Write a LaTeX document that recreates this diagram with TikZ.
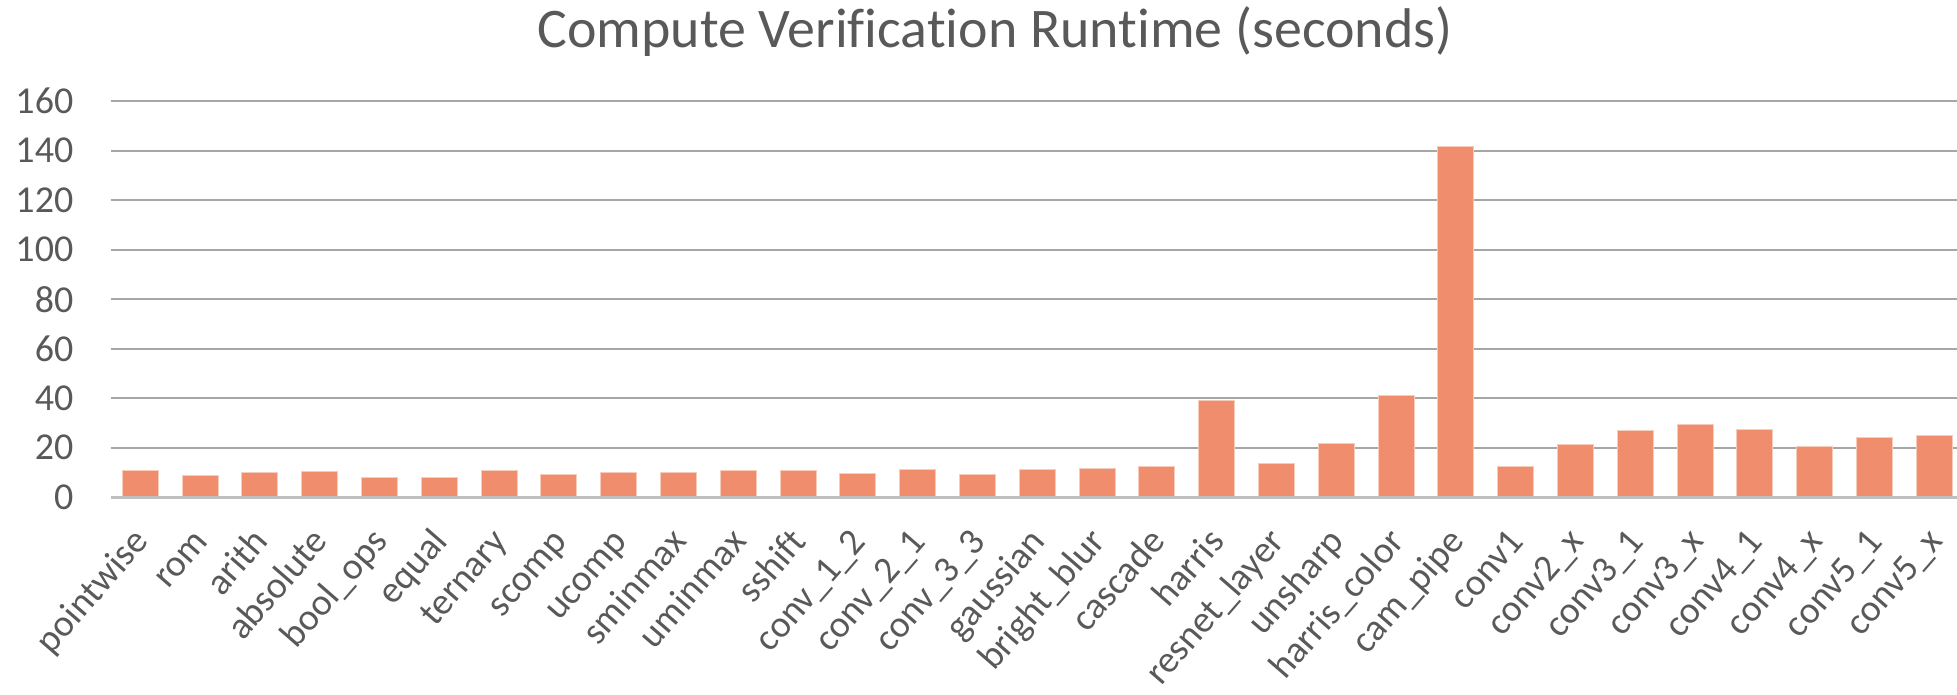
\documentclass[tikz,border=0pt]{standalone}
\usepackage{fontspec}
\setmainfont{Carlito}[Ligatures={NoCommon}]
\newfontfamily\ttlfamily{Carlito}[Ligatures={NoCommon}]
\newcommand\labfont{\fontsize{10.7pt}{12.8pt}\selectfont}
\newcommand\ylabfont{\fontsize{10.81pt}{13pt}\selectfont}
\newcommand\ttlfont{\ttlfamily\fontsize{15.9pt}{19pt}\selectfont}
\definecolor{txt}{HTML}{595959}
\definecolor{barc}{HTML}{EF8D6C}
\definecolor{gridc}{HTML}{A6A6A6}
\definecolor{axisc}{HTML}{BFBFBF}
\tikzset{
  gridline/.style={draw=gridc, line width=0.55pt},
  axisline/.style={draw=axisc, line width=0.85pt},
  barbox/.style={fill=barc, draw=barc!45!white, line width=0.25pt},
  ylab/.style={anchor=east, inner sep=0pt, text=txt, font=\ylabfont},
  xlab/.style={anchor=east, rotate=49, inner sep=0pt, text=txt, font=\labfont, text height=8pt, text depth=2.7pt},
  ttl/.style={anchor=base, inner sep=0pt, text=txt, font=\ttlfont}
}
\begin{document}
\begin{tikzpicture}[x=0.01cm, y=-0.01cm]
\useasboundingbox (0,0) rectangle (1957,695);
\node[ttl] (title) at (995,48) {Compute Verification Runtime (seconds)};
\foreach \v in {20,40,...,160} {
  \draw[gridline] (110.5,{497.3-2.475*\v}) -- (1957,{497.3-2.475*\v});
}
\foreach \v in {0,20,...,160} {
  \node[ylab] (y\v) at (74,{497.3-2.475*\v}) {\v};
}
\foreach \n/\val [count=\i from 0] in {pointwise/10.9, rom/9.0, arith/10.1, absolute/10.5, bool\_ops/7.9, equal/8.2, ternary/10.7, scomp/9.3, ucomp/10.2, sminmax/10.0, uminmax/10.9, sshift/10.7, conv\_1\_2/9.7, conv\_2\_1/11.2, conv\_3\_3/9.3, gaussian/11.3, bright\_blur/11.5, cascade/12.3, harris/39.3, resnet\_layer/13.6, unsharp/21.7, harris\_color/41.1, cam\_pipe/141.8, conv1/12.4, conv2\_x/21.3, conv3\_1/26.9, conv3\_x/29.5, conv4\_1/27.5, conv4\_x/20.6, conv5\_1/24.2, conv5\_x/25.0} {
  \pgfmathsetmacro\cx{140.3+59.8*\i}
  \draw[barbox] ({\cx-18},497.3) rectangle ({\cx+18},{497.3-2.475*\val});
  \node[xlab] (lab\i) at ({\cx+3},536) {\n};
}
\draw[axisline] (110.5,497.3) -- (1957,497.3);
\end{tikzpicture}
\end{document}
